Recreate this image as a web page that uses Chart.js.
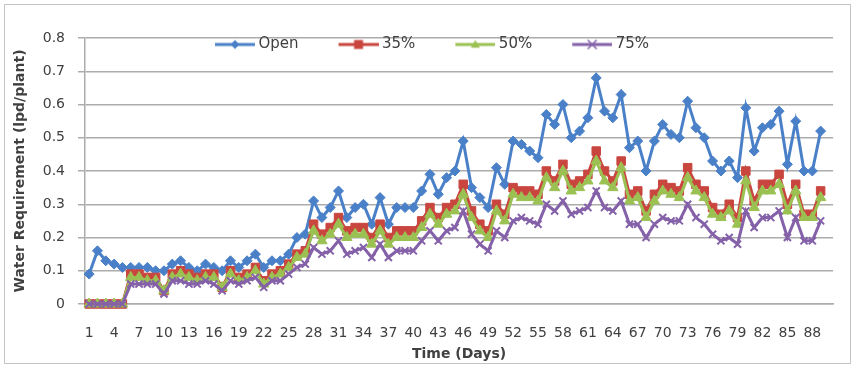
<!DOCTYPE html>
<html>
<head>
<meta charset="utf-8">
<title>Water Requirement</title>
<script src="https://cdn.jsdelivr.net/npm/chart.js@4.4.0/dist/chart.umd.min.js"></script>
<style>
  html, body { margin: 0; padding: 0; background: #fff; }
  body { padding: 4px; }
  #wrap { position: relative; width: 847px; height: 360px; box-sizing: border-box; border: 1px solid #c4c4c4; }
</style>
</head>
<body>
<div id="wrap"><canvas id="myChart"></canvas></div>
<script>
// categories (days); the 90th slot is empty in the original sheet
const days = [1,2,3,4,5,6,7,8,9,10,11,12,13,14,15,16,17,18,19,20,
  21,22,23,24,25,26,27,28,29,30,31,32,33,34,35,36,37,38,39,40,
  41,42,43,44,45,46,47,48,49,50,51,52,53,54,55,56,57,58,59,60,
  61,62,63,64,65,66,67,68,69,70,71,72,73,74,75,76,77,78,79,80,
  81,82,83,84,85,86,87,88,89,90];
const shownDays = [1,4,7,10,13,16,19,22,25,28,31,34,37,40,43,46,49,52,55,58,61,64,67,70,73,76,79,82,85,88];

const seriesNames = ['Open', '35%', '50%', '75%'];

const openVals = [0.09,0.16,0.13,0.12,0.11,0.11,0.11,0.11,0.10,0.10,
  0.12,0.13,0.11,0.10,0.12,0.11,0.10,0.13,0.11,0.13,
  0.15,0.11,0.13,0.13,0.15,0.20,0.21,0.31,0.26,0.29,
  0.34,0.26,0.29,0.30,0.24,0.32,0.24,0.29,0.29,0.29,
  0.34,0.39,0.33,0.38,0.40,0.49,0.35,0.32,0.29,0.41,
  0.36,0.49,0.48,0.46,0.44,0.57,0.54,0.60,0.50,0.52,
  0.56,0.68,0.58,0.56,0.63,0.47,0.49,0.40,0.49,0.54,
  0.51,0.50,0.61,0.53,0.50,0.43,0.40,0.43,0.38,0.59,
  0.46,0.53,0.54,0.58,0.42,0.55,0.40,0.40,0.52];

const p35 = [0,0,0,0,0,0.09,0.09,0.08,0.08,0.04,
  0.09,0.10,0.09,0.08,0.09,0.09,0.05,0.10,0.08,0.09,
  0.11,0.07,0.09,0.10,0.12,0.15,0.16,0.24,0.21,0.23,
  0.26,0.22,0.23,0.23,0.20,0.24,0.20,0.22,0.22,0.22,
  0.25,0.29,0.26,0.29,0.30,0.36,0.28,0.24,0.22,0.30,
  0.27,0.35,0.34,0.34,0.33,0.40,0.37,0.42,0.36,0.37,
  0.39,0.46,0.40,0.37,0.43,0.33,0.34,0.28,0.33,0.36,
  0.35,0.34,0.41,0.36,0.34,0.29,0.27,0.30,0.26,0.40,
  0.31,0.36,0.36,0.39,0.30,0.36,0.27,0.27,0.34];

const p50 = [0,0,0,0,0,0.08,0.08,0.07,0.07,0.04,
  0.08,0.09,0.08,0.07,0.08,0.08,0.05,0.09,0.07,0.08,
  0.10,0.06,0.08,0.09,0.11,0.14,0.15,0.22,0.19,0.21,
  0.24,0.20,0.21,0.21,0.18,0.22,0.18,0.20,0.20,0.20,
  0.23,0.27,0.24,0.27,0.28,0.33,0.26,0.22,0.20,0.28,
  0.25,0.33,0.32,0.32,0.31,0.38,0.35,0.40,0.34,0.35,
  0.37,0.43,0.37,0.35,0.41,0.31,0.32,0.26,0.31,0.34,
  0.33,0.32,0.38,0.34,0.32,0.27,0.26,0.28,0.24,0.37,
  0.29,0.34,0.34,0.36,0.28,0.34,0.26,0.26,0.32];

const p75 = [0,0,0,0,0,0.06,0.06,0.06,0.06,0.03,
  0.07,0.07,0.06,0.06,0.07,0.06,0.04,0.07,0.06,0.07,
  0.08,0.05,0.07,0.07,0.09,0.11,0.12,0.17,0.15,0.16,
  0.19,0.15,0.16,0.17,0.14,0.18,0.14,0.16,0.16,0.16,
  0.19,0.22,0.19,0.22,0.23,0.28,0.21,0.18,0.16,0.22,
  0.20,0.25,0.26,0.25,0.24,0.30,0.28,0.31,0.27,0.28,
  0.29,0.34,0.29,0.28,0.31,0.24,0.24,0.20,0.24,0.26,
  0.25,0.25,0.30,0.26,0.24,0.21,0.19,0.20,0.18,0.28,
  0.23,0.26,0.26,0.28,0.20,0.26,0.19,0.19,0.25];

const yMax = 0.8;
const yStep = 0.1;

const colors = ['#4a80c8', '#c9463f', '#9bc153', '#8461a8'];
const markers = ['rectRot', 'rect', 'triangle', 'crossRot'];
const gridGray = '#acacac';
const textGray = '#404040';

// little line + marker picture for the legend (like Excel's legend key)
function legendIcon(color, style) {
  const c = document.createElement('canvas');
  c.width = 76; c.height = 14;
  const g = c.getContext('2d');
  g.strokeStyle = color;
  g.fillStyle = color;
  g.lineWidth = 3;
  g.beginPath(); g.moveTo(36, 7); g.lineTo(76, 7); g.stroke();
  const x = 56, y = 7, r = 4.5;
  g.lineWidth = 1.5;
  g.beginPath();
  if (style === 'rectRot') {
    g.moveTo(x, y - r); g.lineTo(x + r, y); g.lineTo(x, y + r); g.lineTo(x - r, y); g.closePath(); g.fill();
  } else if (style === 'rect') {
    g.rect(x - r, y - r, r * 2, r * 2); g.fill();
  } else if (style === 'triangle') {
    g.moveTo(x, y - r); g.lineTo(x + r, y + r * 0.7); g.lineTo(x - r, y + r * 0.7); g.closePath(); g.fill();
  } else {
    g.moveTo(x - r, y - r); g.lineTo(x + r, y + r);
    g.moveTo(x + r, y - r); g.lineTo(x - r, y + r); g.stroke();
  }
  return c;
}
const legendIcons = colors.map((c, i) => legendIcon(c, markers[i]));

function makeSet(i, values, radius) {
  return {
    label: seriesNames[i],
    data: values,
    borderColor: colors[i],
    backgroundColor: colors[i],
    borderWidth: 3,
    pointStyle: markers[i],
    pointRadius: radius,
    pointBorderWidth: markers[i] === 'crossRot' ? 2 : 1,
    pointBorderColor: colors[i],
    pointBackgroundColor: colors[i],
    tension: 0,
    clip: false,
    order: 3 - i
  };
}

// nudge the legend down into the plot, as in the original
const legendInside = {
  id: 'legendInside',
  afterLayout(chart) {
    const lg = chart.legend;
    if (!lg) return;
    const dx = -8, dy = 24;
    lg.left += dx; lg.right += dx;
    lg.top += dy; lg.bottom += dy;
  }
};

const ctx = document.getElementById('myChart');

const myChart = new Chart(ctx, {
  type: 'line',
  data: {
    labels: days,
    datasets: [
      makeSet(0, openVals, 5),
      makeSet(1, p35, 6),
      makeSet(2, p50, 6),
      makeSet(3, p75, 5)
    ]
  },
  plugins: [legendInside],
  options: {
    responsive: true,
    maintainAspectRatio: false,
    animation: false,
    layout: { padding: { left: 0, right: 7, top: 0, bottom: 0 } },
    plugins: {
      tooltip: { enabled: false },
      legend: {
        position: 'top',
        align: 'center',
        labels: {
          usePointStyle: true,
          pointStyleWidth: 68,
          padding: 8,
          color: textGray,
          font: { family: 'DejaVu Sans', size: 15 },
          generateLabels: (chart) => chart.data.datasets.map((ds, i) => ({
            text: ds.label,
            datasetIndex: i,
            pointStyle: legendIcons[i],
            fillStyle: 'transparent',
            strokeStyle: 'transparent',
            lineWidth: 0,
            fontColor: textGray,
            hidden: false
          }))
        }
      }
    },
    scales: {
      x: {
        type: 'category',
        offset: true,
        grid: { display: false, drawTicks: false },
        border: { display: true, color: gridGray, width: 1.5 },
        ticks: {
          autoSkip: false,
          maxRotation: 0,
          minRotation: 0,
          padding: 21,
          color: textGray,
          font: { family: 'DejaVu Sans', size: 14 },
          callback: function (value) {
            const d = this.getLabelForValue(value);
            return shownDays.includes(d) ? String(d) : '';
          }
        },
        title: {
          display: true,
          text: 'Time (Days)',
          color: textGray,
          font: { family: 'DejaVu Sans', size: 14, weight: 'bold' },
          padding: { top: 0, bottom: 0 }
        },
        afterFit: (scale) => { scale.height = 59; }
      },
      y: {
        min: 0,
        max: yMax,
        grid: { color: gridGray, lineWidth: 1.5, tickLength: 7, drawTicks: true },
        border: { display: true, color: gridGray, width: 1.5 },
        ticks: {
          stepSize: yStep,
          padding: 13,
          color: textGray,
          font: { family: 'DejaVu Sans', size: 14 }
        },
        title: {
          display: true,
          text: 'Water Requirement (lpd/plant)',
          color: textGray,
          font: { family: 'DejaVu Sans', size: 14, weight: 'bold' },
          padding: { top: 7, bottom: 0 }
        },
        afterFit: (scale) => { scale.width = 80; }
      }
    }
  }
});
</script>
</body>
</html>
